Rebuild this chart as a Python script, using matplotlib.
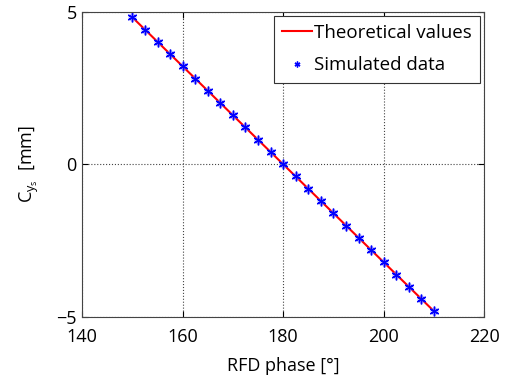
import numpy as np
import matplotlib
matplotlib.use("Agg")
import matplotlib.pyplot as plt

plt.rcParams['font.family'] = ['Open Sans', 'DejaVu Sans']
plt.rcParams['mathtext.fontset'] = 'custom'
plt.rcParams['mathtext.rm'] = 'Open Sans'
plt.rcParams['mathtext.it'] = 'Open Sans'

# RFD phase [deg] and offset [mm]
phase = [150, 152.5, 155, 157.5, 160, 162.5, 165, 167.5, 170, 172.5, 175, 177.5, 180,
         182.5, 185, 187.5, 190, 192.5, 195, 197.5, 200, 202.5, 205, 207.5, 210]
sim = [4.82, 4.42, 4.02, 3.62, 3.21, 2.81, 2.41, 2.01, 1.61, 1.21, 0.80, 0.40, 0.0,
       -0.40, -0.80, -1.21, -1.61, -2.01, -2.41, -2.81, -3.21, -3.62, -4.02, -4.42, -4.82]
theo_phase = [150, 210]
theo = [4.82, -4.82]

fig = plt.figure(figsize=(5.07, 3.82), dpi=100)
ax = fig.add_axes([0.162, 0.171, 0.793, 0.798])

ax.plot(theo_phase, theo, color='red', lw=1.5, label='Theoretical values')
# soft halo behind the asterisks
ax.plot(phase, sim, ls='none', marker='o', color='#8c8cff', alpha=0.5,
        markersize=6, markeredgewidth=0)
ax.plot(phase, sim, ls='none', marker=(6, 2, 0), color='blue', markersize=7,
        markeredgewidth=1.0, label='Simulated data')

ax.set_xlim(140, 220)
ax.set_ylim(-5, 5)
ax.set_xticks([140, 160, 180, 200, 220])
ax.set_yticks([-5, 0, 5])
ax.grid(True, ls=':', color='#444444', lw=0.8)
ax.tick_params(direction='in', top=True, right=True, labelsize=13, length=4)
ax.tick_params(axis='x', pad=8)
ax.tick_params(axis='y', pad=4)
for s in ax.spines.values():
    s.set_color('#444444')

ax.set_xlabel('RFD phase [°]', fontsize=13, labelpad=8)
ax.set_ylabel(r'C$_{y_s}$  [mm]', fontsize=13, labelpad=11)

leg = ax.legend(loc='upper right', fontsize=13.5, fancybox=False, edgecolor='#333333',
                framealpha=1, handlelength=1.6, handletextpad=0.1, borderaxespad=0.2,
                borderpad=0.45, labelspacing=0.75, markerscale=0.6)
leg.get_frame().set_linewidth(0.8)

fig.savefig('out.png', dpi=100)
